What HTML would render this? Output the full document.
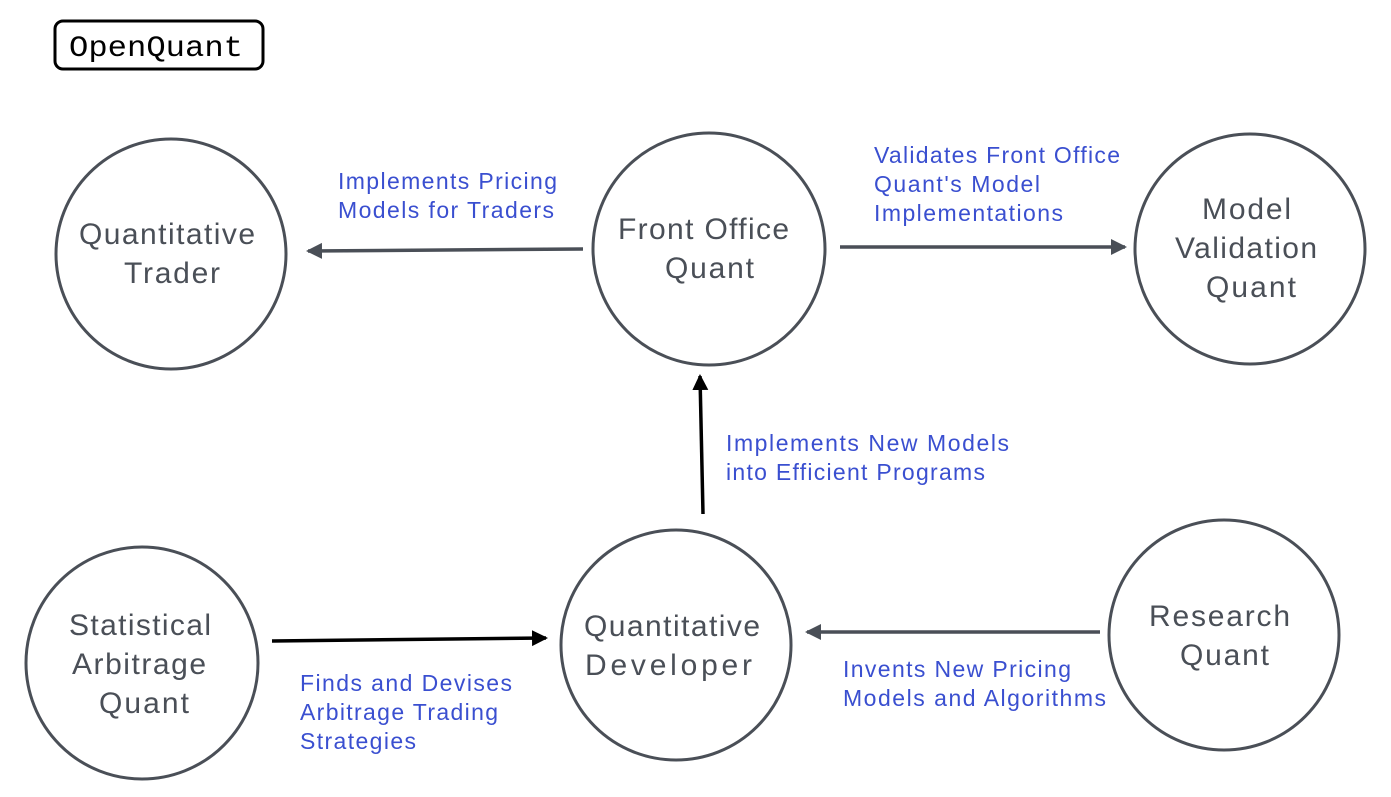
<!DOCTYPE html>
<html><head><style>
body{margin:0;background:#fff;}
svg{display:block}
.n{font-family:"Liberation Sans",sans-serif;font-size:30px;fill:#4a4f57}
.l{font-family:"Liberation Sans",sans-serif;font-size:23px;fill:#3a4fd0}
</style></head><body>
<svg width="1391" height="797" viewBox="0 0 1391 797">
<defs>
<marker id="g" markerWidth="20" markerHeight="20" refX="14" refY="8" orient="auto" markerUnits="userSpaceOnUse"><path d="M0,0 L16,8 L0,16 Z" fill="#4a4f57"/></marker>
<marker id="b" markerWidth="20" markerHeight="20" refX="14" refY="8" orient="auto" markerUnits="userSpaceOnUse"><path d="M0,0 L16,8 L0,16 Z" fill="#000"/></marker>
</defs>
<rect x="55" y="21" width="208" height="48" rx="8" fill="#fff" stroke="#000" stroke-width="3"/>
<text x="69" y="56" font-family="Liberation Mono,monospace" font-size="30" fill="#000" textLength="174" lengthAdjust="spacingAndGlyphs">OpenQuant</text>
<g fill="none" stroke="#4a4f57" stroke-width="3">
<circle cx="171" cy="254" r="115"/>
<circle cx="709" cy="249" r="116"/>
<circle cx="1250" cy="249" r="115"/>
<circle cx="142" cy="663" r="116"/>
<circle cx="676" cy="645" r="115"/>
<circle cx="1224" cy="635" r="115"/>
</g>
<g class="n" lengthAdjust="spacingAndGlyphs">
<text class="n" x="79" y="244" textLength="176">Quantitative</text><text class="n" x="124" y="283" textLength="96">Trader</text>
<text class="n" x="618" y="239" textLength="171">Front Office</text><text class="n" x="665" y="278" textLength="89">Quant</text>
<text class="n" x="1202" y="219" textLength="89">Model</text><text class="n" x="1175" y="258" textLength="142">Validation</text><text class="n" x="1206" y="297" textLength="90">Quant</text>
<text class="n" x="69" y="635" textLength="142">Statistical</text><text class="n" x="72" y="674" textLength="134">Arbitrage</text><text class="n" x="99" y="713" textLength="90">Quant</text>
<text class="n" x="584" y="636" textLength="176">Quantitative</text><text class="n" x="585" y="675" textLength="167">Developer</text>
<text class="n" x="1149" y="626" textLength="141">Research</text><text class="n" x="1180" y="665" textLength="89">Quant</text>
</g>
<g stroke-width="3.5" fill="none">
<line x1="583" y1="249" x2="308" y2="251" stroke="#4a4f57" marker-end="url(#g)"/>
<line x1="840" y1="247" x2="1125" y2="247" stroke="#4a4f57" marker-end="url(#g)"/>
<line x1="1100" y1="632" x2="807" y2="632" stroke="#4a4f57" marker-end="url(#g)"/>
<line x1="703" y1="514" x2="700" y2="376" stroke="#000" marker-end="url(#b)"/>
<line x1="272" y1="641" x2="546" y2="638" stroke="#000" marker-end="url(#b)"/>
</g>
<text class="l" x="338" y="189" textLength="219">Implements Pricing</text><text class="l" x="338" y="218" textLength="216">Models for Traders</text>
<text class="l" x="874" y="163" textLength="246">Validates Front Office</text><text class="l" x="874" y="192" textLength="166">Quant's Model</text><text class="l" x="874" y="221" textLength="189">Implementations</text>
<text class="l" x="726" y="451" textLength="283">Implements New Models</text><text class="l" x="726" y="480" textLength="259">into Efficient Programs</text>
<text class="l" x="300" y="691" textLength="212">Finds and Devises</text><text class="l" x="300" y="720" textLength="198">Arbitrage Trading</text><text class="l" x="300" y="749" textLength="116">Strategies</text>
<text class="l" x="843" y="677" textLength="228">Invents New Pricing</text><text class="l" x="843" y="706" textLength="263">Models and Algorithms</text>
</svg>
</body></html>
